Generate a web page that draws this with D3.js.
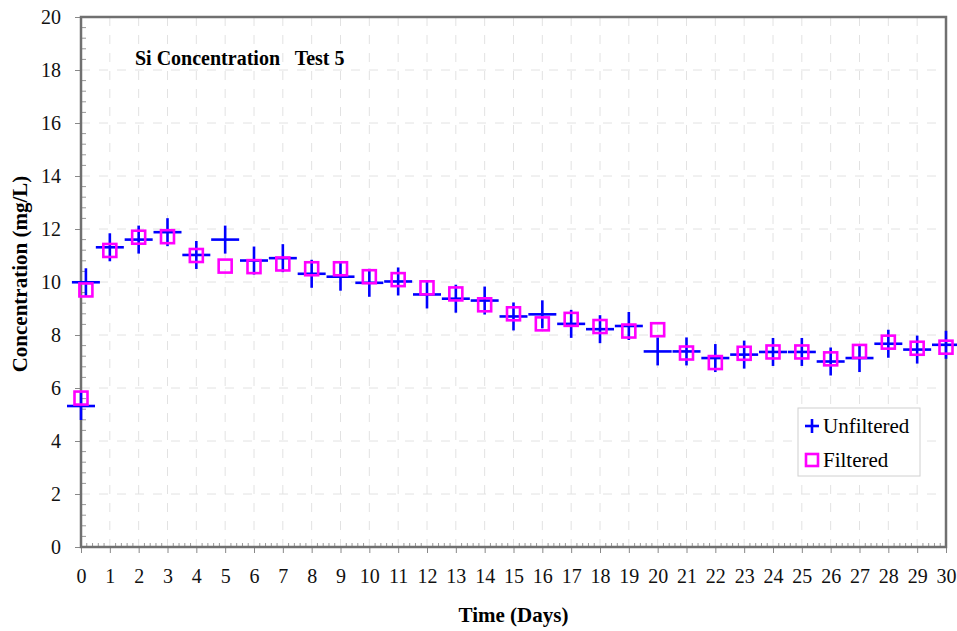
<!DOCTYPE html>
<html>
<head>
<meta charset="utf-8">
<script src="https://cdn.jsdelivr.net/npm/d3@7"></script>
<style>
  body { margin: 0; background: #fff; }
  text { font-family: "Liberation Serif", "Times New Roman", serif; }
</style>
</head>
<body>
<div id="chart"></div>
<script>
// days (0.17 = second sample on day 0)
var days = [0, 0.17, 1, 2, 3, 4, 5, 6, 7, 8, 9, 10, 11, 12, 13, 14, 15, 16, 17, 18, 19, 20,
            21, 22, 23, 24, 25, 26, 27, 28, 29, 30];
var unfiltered = [5.32, 9.99, 11.31, 11.6, 11.88, 11.02, 11.6, 10.81, 10.9, 10.31, 10.2, 9.97, 10.02,
                  9.53, 9.37, 9.3, 8.7, 8.78, 8.42, 8.22, 8.34, 7.38, 7.38, 7.13, 7.26, 7.36, 7.36,
                  7.0, 7.13, 7.67, 7.45, 7.63];
var filtered = [5.62, 9.7, 11.19, 11.69, 11.71, 11.0, 10.6, 10.58, 10.68, 10.5, 10.5, 10.2, 10.09,
                9.78, 9.55, 9.14, 8.8, 8.42, 8.59, 8.32, 8.15, 8.2, 7.32, 6.96, 7.31, 7.36, 7.36,
                7.1, 7.38, 7.73, 7.5, 7.54];
var xTicks = d3.range(0, 31);
var yTicks = d3.range(0, 21, 2);

var width = 957, height = 631;
var margin = {top: 17, right: 11, bottom: 84, left: 81};

var svg = d3.select("#chart").append("svg")
    .attr("width", width)
    .attr("height", height);

var x = d3.scaleLinear().domain([0, 30]).range([margin.left, width - margin.right]);
var y = d3.scaleLinear().domain([0, 20]).range([height - margin.bottom, margin.top]);

// grid
svg.append("g").selectAll("line.vg")
    .data(xTicks.slice(1, -1))
    .enter().append("line")
    .attr("x1", d => x(d)).attr("x2", d => x(d))
    .attr("y1", y(20)).attr("y2", y(0))
    .attr("stroke", "#e2e2e2").attr("stroke-width", 1)
    .attr("stroke-dasharray", "9,9");
svg.append("g").selectAll("line.hg")
    .data(yTicks.slice(1, -1))
    .enter().append("line")
    .attr("x1", x(0)).attr("x2", x(30))
    .attr("y1", d => y(d)).attr("y2", d => y(d))
    .attr("stroke", "#e2e2e2").attr("stroke-width", 1)
    .attr("stroke-dasharray", "9,9");

// minor ticks
var xMinor = d3.range(0, 150).map(i => i / 5).filter(d => d % 1 !== 0);
svg.append("g").selectAll("line")
    .data(xMinor).enter().append("line")
    .attr("x1", d => x(d)).attr("x2", d => x(d))
    .attr("y1", y(0)).attr("y2", y(0) - 4)
    .attr("stroke", "#999").attr("stroke-width", 1);
var yMinor = d3.range(0, 50).map(i => i * 0.4).filter(d => Math.abs(d / 2 - Math.round(d / 2)) > 0.01);
svg.append("g").selectAll("line")
    .data(yMinor).enter().append("line")
    .attr("x1", x(0)).attr("x2", x(0) + 5)
    .attr("y1", d => y(d)).attr("y2", d => y(d))
    .attr("stroke", "#999").attr("stroke-width", 1);

// axes
var xAxis = svg.append("g")
    .attr("transform", "translate(0," + y(0) + ")")
    .call(d3.axisBottom(x).tickValues(xTicks).tickSize(6).tickPadding(16).tickFormat(d3.format("d")));
var yAxis = svg.append("g")
    .attr("transform", "translate(" + x(0) + ",0)")
    .call(d3.axisLeft(y).tickValues(yTicks).tickSize(6).tickPadding(14).tickFormat(d3.format("d")));
[xAxis, yAxis].forEach(function(g) {
    g.select(".domain").remove();
    g.selectAll(".tick line").attr("stroke", "#888");
    g.selectAll(".tick text").attr("font-size", 20).attr("fill", "#111")
        .style("font-family", "'Liberation Serif', serif");
});
yAxis.selectAll(".tick text").attr("dy", "0.34em");

// frame
svg.append("rect")
    .attr("x", x(0)).attr("y", y(20))
    .attr("width", x(30) - x(0)).attr("height", y(0) - y(20))
    .attr("fill", "none").attr("stroke", "#707070").attr("stroke-width", 2.5);

// unfiltered: + markers
var plusSize = 14;
var plus = svg.append("g").selectAll("g")
    .data(days.map((d, i) => [d, unfiltered[i]]))
    .enter().append("g")
    .attr("transform", d => "translate(" + x(d[0]) + "," + y(d[1]) + ")");
plus.append("line").attr("x1", -plusSize).attr("x2", plusSize)
    .attr("stroke", "#0000ff").attr("stroke-width", 2.6);
plus.append("line").attr("y1", -plusSize).attr("y2", plusSize)
    .attr("stroke", "#0000ff").attr("stroke-width", 2.6);

// filtered: square markers
var sq = 13;
svg.append("g").selectAll("rect")
    .data(days.map((d, i) => [d, filtered[i]]))
    .enter().append("rect")
    .attr("x", d => x(d[0]) - sq / 2)
    .attr("y", d => y(d[1]) - sq / 2)
    .attr("width", sq).attr("height", sq)
    .attr("fill", "none").attr("stroke", "#ff00ff").attr("stroke-width", 2.6);

// title
svg.append("text")
    .attr("x", 135).attr("y", 65)
    .attr("font-size", 20).attr("font-weight", "bold")
    .attr("xml:space", "preserve")
    .text("Si Concentration   Test 5");

// axis titles
svg.append("text")
    .attr("x", (x(0) + x(30)) / 2).attr("y", 622)
    .attr("text-anchor", "middle")
    .attr("font-size", 21).attr("font-weight", "bold")
    .text("Time (Days)");
svg.append("text")
    .attr("transform", "translate(27," + y(10.3) + ") rotate(-90)")
    .attr("text-anchor", "middle")
    .attr("font-size", 21).attr("font-weight", "bold")
    .text("Concentration (mg/L)");

// legend
var legend = svg.append("g").attr("transform", "translate(798,408)");
legend.append("rect")
    .attr("width", 122).attr("height", 68)
    .attr("fill", "#fff").attr("stroke", "#d0d0d0").attr("stroke-width", 1);
legend.append("line").attr("x1", 7).attr("x2", 21).attr("y1", 18).attr("y2", 18)
    .attr("stroke", "#0000ff").attr("stroke-width", 2.6);
legend.append("line").attr("x1", 14).attr("x2", 14).attr("y1", 11).attr("y2", 25)
    .attr("stroke", "#0000ff").attr("stroke-width", 2.6);
legend.append("rect").attr("x", 8).attr("y", 46).attr("width", 12).attr("height", 12)
    .attr("fill", "none").attr("stroke", "#ff00ff").attr("stroke-width", 2.6);
legend.append("text").attr("x", 25).attr("y", 25).attr("font-size", 21).text("Unfiltered");
legend.append("text").attr("x", 25).attr("y", 59).attr("font-size", 21).text("Filtered");
</script>
</body>
</html>
